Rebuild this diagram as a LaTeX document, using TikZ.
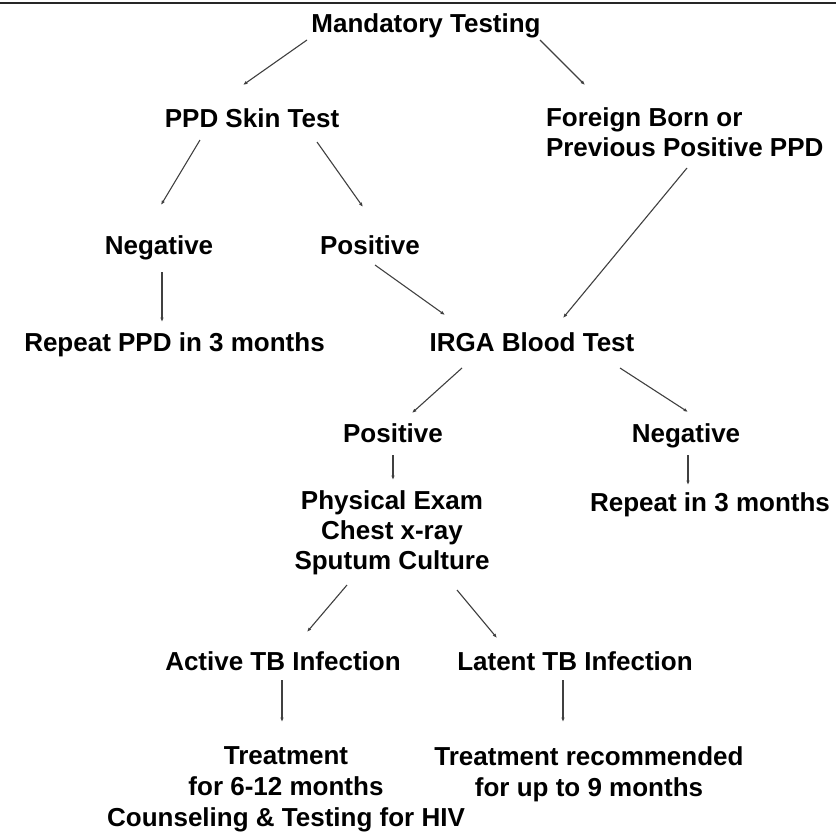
\documentclass[tikz,border=0pt]{standalone}
\usepackage{fontspec}
\setmainfont{Liberation Sans}
\usetikzlibrary{arrows.meta,calc}
\begin{document}
\begin{tikzpicture}[x=1pt,y=-1pt,
  lbl/.style={inner sep=0pt,outer sep=0pt,font=\fontsize{26}{30}\selectfont\bfseries,text=black},
  lbl31/.style={lbl,font=\fontsize{26}{31}\selectfont\bfseries},
  arr/.style={draw=black!75,line width=1.1pt,-{Latex[length=4.5pt,width=3.5pt]}}]
\useasboundingbox (0,0) rectangle (836,835);
\fill[white] (0,0) rectangle (836,835);
\draw[line width=2.5pt,black!85] (0,3) -- (836,3);
% nodes
\node[lbl,anchor=base] (mand) at (426,32) {Mandatory Testing};
\node[lbl,anchor=base] (ppd) at (252,127) {PPD Skin Test};
\node[lbl,anchor=north west,align=left] (foreign) at (546,108) {Foreign Born or\\Previous Positive PPD};
\node[lbl,anchor=base] (neg1) at (159,254) {Negative};
\node[lbl,anchor=base] (pos1) at (370,254) {Positive};
\node[lbl,anchor=base] (rep1) at (174.5,351) {Repeat PPD in 3 months};
\node[lbl,anchor=base] (irga) at (532,351) {IRGA Blood Test};
\node[lbl,anchor=base] (pos2) at (393,442) {Positive};
\node[lbl,anchor=base] (neg2) at (686,442) {Negative};
\node[lbl,anchor=base] (rep2) at (710,511) {Repeat in 3 months};
\node[lbl,anchor=north,align=center] (phys) at (392,491) {Physical Exam\\Chest x-ray\\Sputum Culture};
\node[lbl,anchor=base] (active) at (283,670) {Active TB Infection};
\node[lbl,anchor=base] (latent) at (575,670) {Latent TB Infection};
\node[lbl31,anchor=north,align=center] (treat1) at (286,747) {Treatment\\for 6-12 months\\Counseling \& Testing for HIV};
\node[lbl31,anchor=north,align=center] (treat2) at (589,747) {Treatment recommended\\for up to 9 months};
% connectors
\draw[arr] ($(mand.base)+(-119,8)$) -- ($(ppd.base)+(-9,-42)$);
\draw[arr] ($(mand.base)+(114,8)$) -- ($(foreign.north west)+(39,-23)$);
\draw[arr] ($(ppd.base)+(-52,13)$) -- ($(neg1.base)+(2,-49)$);
\draw[arr] ($(ppd.base)+(65,15)$) -- ($(pos1.base)+(-7,-47)$);
\draw[arr] ($(neg1.base)+(3,18)$) -- ($(rep1.base)+(-12.5,-29)$);
\draw[arr] ($(pos1.base)+(5,11)$) -- ($(irga.base)+(-87,-36)$);
\draw[arr] ($(foreign.north west)+(141,60)$) -- ($(irga.base)+(31,-33)$);
\draw[arr] ($(irga.base)+(-70,17)$) -- ($(pos2.base)+(19,-29)$);
\draw[arr] ($(irga.base)+(88,17)$) -- ($(neg2.base)+(2,-30)$);
\draw[arr] ($(pos2.base)+(0,13)$) -- ($(phys.north)+(1,-11)$);
\draw[arr] ($(neg2.base)+(2,13)$) -- ($(rep2.base)+(-22,-26)$);
\draw[arr] ($(phys.north)+(-45,94)$) -- ($(active.base)+(24,-38)$);
\draw[arr] ($(phys.north)+(65,99)$) -- ($(latent.base)+(-78,-32)$);
\draw[arr] ($(active.base)+(-1,10)$) -- ($(treat1.north)+(-4,-25)$);
\draw[arr] ($(latent.base)+(-12,10)$) -- ($(treat2.north)+(-26,-25)$);
\end{tikzpicture}
\end{document}
